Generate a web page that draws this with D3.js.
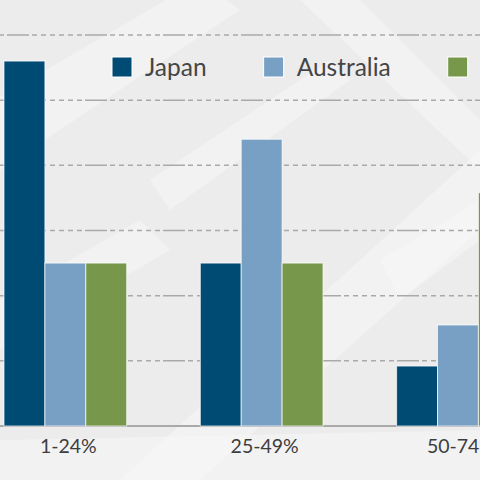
<!DOCTYPE html>
<html>
<head>
<meta charset="utf-8">
<script src="https://cdn.jsdelivr.net/npm/d3@7"></script>
<style>
  html, body { margin: 0; padding: 0; background: #ededed; }
  svg { display: block; }
  text { font-family: Lato, "Open Sans", sans-serif; }
</style>
</head>
<body>
<div id="chart"></div>
<script>
// data (values in %)
const categories = ['1-24%', '25-49%', '50-74%']
const seriesNames = ['Japan', 'Australia', 'New Zealand']
const japan = [56, 25, 9.2]
const australia = [25, 44, 15.5]
const other = [25, 25, 35.8]
const yTicks = [0, 10, 20, 30, 40, 50, 60]
const colors = ['#004b74', '#78a0c4', '#77974b']

const W = 480, H = 480
const svg = d3.select('#chart').append('svg')
    .attr('width', W)
    .attr('height', H)

// background, a rough stand-in for the photo texture
let bg = svg.append('g').attr('class', 'bg')
bg.append('rect')
    .attr('width', W).attr('height', H)
    .attr('fill', '#ececec')
const streaks = [
    [[-40, 120], [200, -20], [240, 10], [0, 170]],
    [[120, 480], [480, 150], [480, 230], [200, 480]],
    [[300, 0], [360, 0], [480, 120], [480, 170]],
    [[0, 300], [140, 220], [170, 250], [0, 350]],
    [[380, 260], [480, 200], [480, 240], [400, 300]],
    [[150, 180], [330, 60], [350, 80], [170, 210]],
    [[0, 440], [480, 430], [480, 480], [0, 480]]
]
bg.selectAll('polygon')
    .data(streaks)
    .enter().append('polygon')
    .attr('points', d => d.map(p => p.join(',')).join(' '))
    .attr('fill', '#f8f8f8')
    .attr('opacity', 0.5)

const rows = categories.map((c, i) => ({
    cat: c,
    values: [japan[i], australia[i], other[i]]
}))

let x0 = d3.scaleBand()
    .domain(categories)
    .range([-32.8, 556.1])
    .paddingInner(0.375)
    .paddingOuter(0.1875)

let x1 = d3.scaleBand()
    .domain(seriesNames)
    .range([0, x0.bandwidth()])

let y = d3.scaleLinear()
    .domain([0, 60])
    .range([426, 35])

// gridlines
svg.append('g').attr('class', 'grid')
    .selectAll('line')
    .data(yTicks.filter(t => t > 0))
    .enter().append('line')
    .attr('x1', 0).attr('x2', W)
    .attr('y1', d => y(d)).attr('y2', d => y(d))
    .attr('stroke', '#a9a9a9')
    .attr('stroke-width', 1.5)
    .attr('stroke-dasharray', '22,3,5,4,5,4,5,4,5,4,5,4,5,3')
    .attr('stroke-dashoffset', 71)

// baseline
svg.append('line')
    .attr('x1', 0).attr('x2', W)
    .attr('y1', y(0)).attr('y2', y(0))
    .attr('stroke', '#a9a9a9')
    .attr('stroke-width', 2)

// bars
let groups = svg.append('g').attr('class', 'bars')
    .selectAll('g')
    .data(rows)
    .enter().append('g')
    .attr('transform', d => 'translate(' + x0(d.cat) + ',0)')

groups.selectAll('rect')
    .data(d => d.values.map((v, i) => ({ name: seriesNames[i], value: v, i: i })))
    .enter().append('rect')
    .attr('x', d => x1(d.name))
    .attr('y', d => y(d.value))
    .attr('width', x1.bandwidth())
    .attr('height', d => y(0) - y(d.value))
    .attr('fill', d => colors[d.i])
    .attr('stroke', '#ffffff')
    .attr('stroke-opacity', 0.7)
    .attr('stroke-width', 1)

// category labels
let xAxis = d3.axisBottom(x0).tickSize(0).tickPadding(13)
let ax = svg.append('g')
    .attr('transform', 'translate(3,' + y(0) + ')')
    .call(xAxis)
ax.select('.domain').remove()
ax.selectAll('text')
    .attr('font-family', 'Lato, "Open Sans", sans-serif')
    .attr('font-size', '19.5px')
    .attr('fill', '#3d3d3d')

// legend
let legend = svg.append('g').attr('class', 'legend')
let lx = 112
seriesNames.forEach(function(name, i) {
    let item = legend.append('g').attr('transform', 'translate(' + lx + ',57)')
    item.append('rect')
        .attr('width', 20).attr('height', 20)
        .attr('fill', colors[i])
        .attr('stroke', '#ffffff')
        .attr('stroke-width', 1)
    let t = item.append('text')
        .attr('x', 33)
        .attr('y', 19)
        .attr('font-size', '24.5px')
        .attr('fill', '#454545')
        .text(name)
    lx += 33 + t.node().getComputedTextLength() + 57
})
</script>
</body>
</html>
